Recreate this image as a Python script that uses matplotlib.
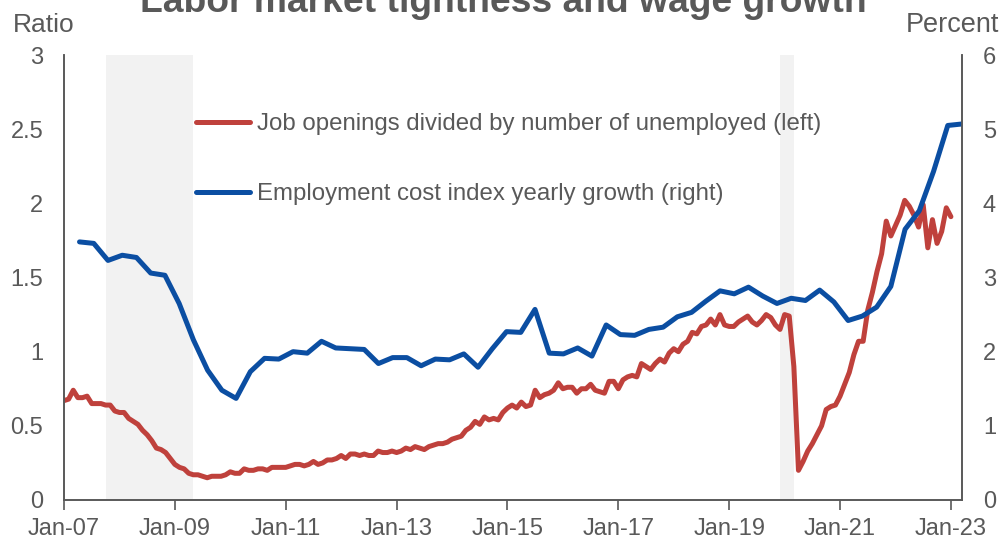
import matplotlib.pyplot as plt
import numpy as np

plt.rcParams['font.family'] = ['Liberation Sans', 'DejaVu Sans']

# Job openings / unemployed, monthly from Jan 2007
ratio_2007 = [0.67, 0.68, 0.74, 0.69, 0.69, 0.70, 0.65, 0.65, 0.65, 0.64, 0.64, 0.60]
ratio_2008 = [0.59, 0.59, 0.55, 0.53, 0.51, 0.47, 0.44, 0.40, 0.35, 0.34, 0.32, 0.28]
ratio_2009 = [0.24, 0.22, 0.21, 0.18, 0.17, 0.17, 0.16, 0.15, 0.16, 0.16, 0.16, 0.17]
ratio_2010 = [0.19, 0.18, 0.18, 0.21, 0.20, 0.20, 0.21, 0.21, 0.20, 0.22, 0.22, 0.22]
ratio_2011 = [0.22, 0.23, 0.24, 0.24, 0.23, 0.24, 0.26, 0.24, 0.25, 0.27, 0.27, 0.28]
ratio_2012 = [0.30, 0.28, 0.31, 0.31, 0.30, 0.31, 0.30, 0.30, 0.33, 0.32, 0.32, 0.33]
ratio_2013 = [0.32, 0.33, 0.35, 0.34, 0.36, 0.35, 0.34, 0.36, 0.37, 0.38, 0.38, 0.39]
ratio_2014 = [0.41, 0.42, 0.43, 0.47, 0.49, 0.53, 0.51, 0.56, 0.54, 0.55, 0.54, 0.59]
ratio_2015 = [0.62, 0.64, 0.62, 0.66, 0.63, 0.64, 0.74, 0.69, 0.71, 0.72, 0.74, 0.79]
ratio_2016 = [0.75, 0.76, 0.76, 0.72, 0.75, 0.75, 0.78, 0.74, 0.73, 0.72, 0.80, 0.80]
ratio_2017 = [0.75, 0.81, 0.83, 0.84, 0.83, 0.92, 0.90, 0.88, 0.92, 0.95, 0.93, 0.99]
ratio_2018 = [1.02, 1.00, 1.05, 1.07, 1.13, 1.12, 1.17, 1.18, 1.22, 1.18, 1.25, 1.18]
ratio_2019 = [1.17, 1.17, 1.20, 1.22, 1.24, 1.20, 1.18, 1.21, 1.25, 1.23, 1.18, 1.15]
ratio_2020 = [1.25, 1.24, 0.90, 0.20, 0.26, 0.33, 0.38, 0.44, 0.50, 0.61, 0.63, 0.64]
ratio_2021 = [0.70, 0.78, 0.86, 0.98, 1.07, 1.07, 1.28, 1.40, 1.54, 1.66, 1.88, 1.78]
ratio_2022 = [1.85, 1.92, 2.02, 1.98, 1.92, 1.84, 1.99, 1.70, 1.89, 1.73, 1.81, 1.97]
ratio_2023 = [1.91]

ratio = (ratio_2007 + ratio_2008 + ratio_2009 + ratio_2010 + ratio_2011 + ratio_2012
         + ratio_2013 + ratio_2014 + ratio_2015 + ratio_2016 + ratio_2017 + ratio_2018
         + ratio_2019 + ratio_2020 + ratio_2021 + ratio_2022 + ratio_2023)
ratio_dates = 2007 + np.arange(len(ratio)) / 12

# Employment cost index yearly growth, quarterly
eci = [3.48, 3.46, 3.23,
       3.30, 3.27, 3.06, 3.03,
       2.65, 2.16, 1.75, 1.48,
       1.37, 1.73, 1.91, 1.90,
       2.00, 1.98, 2.14, 2.05,
       2.04, 2.03, 1.84, 1.92,
       1.92, 1.81, 1.90, 1.89,
       1.97, 1.79, 2.04, 2.27,
       2.26, 2.57, 1.98, 1.97,
       2.05, 1.94, 2.36,
       2.23, 2.22, 2.30, 2.33,
       2.47, 2.53, 2.68, 2.82,
       2.78, 2.87, 2.75, 2.65,
       2.72, 2.69, 2.83, 2.67,
       2.42, 2.48, 2.60, 2.88,
       3.65, 3.90, 4.43, 5.05,
       5.07]
eci_dates = np.linspace(2007.28, 2023.2, len(eci))

recessions = [(2007.75, 2009.33), (2019.92, 2020.17)]
tick_years = [2007, 2009, 2011, 2013, 2015, 2017, 2019, 2021, 2023]
tick_labels = ["Jan-07", "Jan-09", "Jan-11", "Jan-13", "Jan-15",
               "Jan-17", "Jan-19", "Jan-21", "Jan-23"]

grey = "#595959"
red = "#BF413C"
blue = "#0B4EA2"

fig = plt.figure(figsize=(10.01, 5.40), dpi=100)
ax = fig.add_axes([64 / 1001, 40 / 540, 898 / 1001, 445 / 540])
ax2 = ax.twinx()

for start, end in recessions:
    ax.axvspan(start, end, color="#F2F2F2", lw=0, zorder=0)

l1, = ax.plot(ratio_dates, ratio, color=red, lw=3.6, solid_capstyle="round",
              label="Job openings divided by number of unemployed (left)")
l2, = ax2.plot(eci_dates, eci, color=blue, lw=3.6, solid_capstyle="round",
               label="Employment cost index yearly growth (right)")

ax.set_xlim(2007, 2023.2)
ax.set_ylim(0, 3)
ax2.set_ylim(0, 6)
ax.set_yticks([0, 0.5, 1, 1.5, 2, 2.5, 3])
ax.set_yticklabels(["0", "0.5", "1", "1.5", "2", "2.5", "3"])
ax2.set_yticks(range(7))
ax.set_xticks(tick_years)
ax.set_xticklabels(tick_labels)

for a in (ax, ax2):
    a.spines["top"].set_visible(False)
    for s in ("left", "right", "bottom"):
        a.spines[s].set_color(grey)
        a.spines[s].set_linewidth(1.2)
    a.tick_params(axis="y", length=0, pad=15, labelsize=17, labelcolor=grey)
ax.tick_params(axis="x", length=7, width=1.2, color=grey, pad=6,
               labelsize=17, labelcolor=grey, direction="out")

fig.text(503 / 1001, 1 - 12 / 540, "Labor market tightness and wage growth",
         ha="center", va="baseline", fontsize=26.8, fontweight="bold", color=grey)
fig.text(13 / 1001, 1 - 32 / 540, "Ratio", ha="left", va="baseline",
         fontsize=19, color=grey)
fig.text(906 / 1001, 1 - 32 / 540, "Percent", ha="left", va="baseline",
         fontsize=19.5, color=grey)

fig.legend(handles=[l1, l2], loc="upper left",
           bbox_to_anchor=(196 / 1001, 1 - 113 / 540), frameon=False,
           fontsize=17.3, labelcolor=grey, handlelength=2.25, handletextpad=0.3,
           labelspacing=2.0, borderpad=0, borderaxespad=0)

fig.savefig("out.png", dpi=100)
